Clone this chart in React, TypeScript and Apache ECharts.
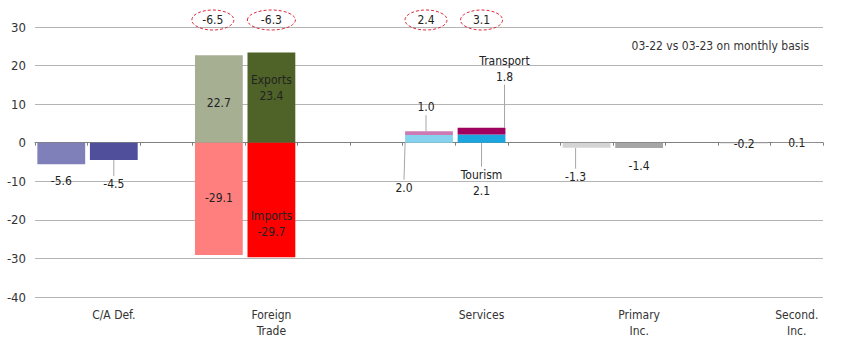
import React, { useEffect, useRef } from "react";
import * as echarts from "echarts";

// ---- data ----
const categories = ["", "C/A Def.", "", "", "Foreign\nTrade", "", "", "", "Services", "", "", "Primary\nInc.", "", "", "Second.\nInc."];
const caDef = [-5.6, -4.5];
const exportsV = [22.7, 23.4];
const importsV = [-29.1, -29.7];
const tourism = [2.0, 2.1];
const transport = [1.0, 1.8];
const primaryInc = [-1.3, -1.4];
const secondInc = [-0.2, 0.1];
const netBalances = ["-6.5", "-6.3", "2.4", "3.1"];
const yTicks = { min: -40, max: 30, interval: 10 };
const subtitle = "03-22 vs 03-23 on monthly basis";

// ---- slots & styles ----
const slots = {
  caDef: [0, 1],
  trade: [3, 4],
  services: [7, 8],
  primary: [10, 11],
  second: [13, 14],
};
const netSlots = [3, 4, 7, 8];
const FONT = "'Liberation Sans Narrow', 'DejaVu Sans Condensed', 'Arial Narrow', 'Liberation Sans', sans-serif";
const FS = 12;
const TXT = "#222";

type Lbl = { position?: string; distance?: number; formatter?: string; move?: number[]; line?: boolean };

function item(value: number, color: string, lbl: Lbl) {
  return {
    value,
    itemStyle: { color },
    label: {
      show: true,
      position: lbl.position || "inside",
      distance: lbl.distance ?? 5,
      formatter: lbl.formatter || "{c}",
    },
    labelLine: { show: !!lbl.line },
    move: lbl.move,
  };
}

function fmt(v: number) {
  return v.toFixed(1);
}

export default function App() {
  const ref = useRef<HTMLDivElement>(null);
  useEffect(() => {
    if (!ref.current) return;
    document.body.style.margin = "0";
    const chart = echarts.init(ref.current, undefined, { renderer: "svg" });
    const n = categories.length;
    const baseData: any[] = new Array(n).fill("-");
    const importData: any[] = new Array(n).fill("-");
    const topData: any[] = new Array(n).fill("-");

    baseData[slots.caDef[0]] = item(caDef[0], "#7f7fb9", { position: "bottom", distance: 9, formatter: fmt(caDef[0]) });
    baseData[slots.caDef[1]] = item(caDef[1], "#4f4f9b", { position: "bottom", distance: 3, formatter: fmt(caDef[1]), move: [0, 13], line: true });
    baseData[slots.trade[0]] = item(exportsV[0], "#a7af93", { formatter: fmt(exportsV[0]), move: [0, 4] });
    baseData[slots.trade[1]] = item(exportsV[1], "#4f6228", { formatter: "Exports\n" + fmt(exportsV[1]), move: [0, -10] });
    baseData[slots.services[0]] = item(tourism[0], "#86d3ef", { position: "bottom", distance: 2, formatter: fmt(tourism[0]), move: [-25, 35], line: true });
    baseData[slots.services[1]] = item(tourism[1], "#1ba6df", { position: "bottom", distance: 2, formatter: "Tourism\n" + fmt(tourism[1]), move: [0, 22], line: true });
    baseData[slots.primary[0]] = item(primaryInc[0], "#d4d4d4", { position: "bottom", distance: 2, formatter: fmt(primaryInc[0]), move: [-11, 19], line: true });
    baseData[slots.primary[1]] = item(primaryInc[1], "#a6a6a6", { position: "bottom", distance: 10, formatter: fmt(primaryInc[1]) });
    baseData[slots.second[0]] = item(secondInc[0], "#d4d4d4", { formatter: fmt(secondInc[0]), move: [0, 1] });
    baseData[slots.second[1]] = item(secondInc[1], "#a0a0a0", { formatter: fmt(secondInc[1]) });

    importData[slots.trade[0]] = item(importsV[0], "#ff7f7f", { formatter: fmt(importsV[0]), move: [0, -1] });
    importData[slots.trade[1]] = item(importsV[1], "#ff0000", { formatter: "Imports\n" + fmt(importsV[1]), move: [0, 24] });

    topData[slots.services[0]] = item(transport[0], "#cc7ab3", { position: "top", distance: 2, formatter: fmt(transport[0]), move: [-3, -14], line: true });
    topData[slots.services[1]] = item(transport[1], "#a0005e", { position: "top", distance: 2, formatter: "Transport\n" + fmt(transport[1]), move: [23, -41], line: true });

    const layoutFor = (data: any[]) => (p: any) => {
      const d = data[p.dataIndex];
      if (d && d.move) return { dx: d.move[0], dy: d.move[1] };
      return {};
    };

    const common = {
      type: "bar",
      stack: "total",
      barWidth: "91%",
      label: { color: TXT, fontFamily: FONT, fontSize: FS, lineHeight: 16 },
      labelLine: { lineStyle: { color: "#a6a6a6", width: 1 } },
    };

    const option: any = {
      animation: false,
      textStyle: { fontFamily: FONT },
      title: {
        text: subtitle,
        right: 31,
        top: 35,
        textStyle: { fontFamily: FONT, fontSize: FS, fontWeight: "normal", color: "#333" },
      },
      grid: { left: 35, right: 22, top: 27, bottom: 58 },
      xAxis: [
        {
          type: "category",
          data: categories,
          boundaryGap: true,
          axisLine: { onZero: true, lineStyle: { color: "#808080" } },
          axisTick: { show: true, length: 3, interval: 0, lineStyle: { color: "#808080" } },
          axisLabel: { show: false },
          splitLine: { show: false },
        },
        {
          type: "category",
          data: categories,
          position: "bottom",
          axisLine: { show: false, onZero: false },
          axisTick: { show: false },
          axisLabel: { interval: 0, color: "#333", fontFamily: FONT, fontSize: FS, lineHeight: 16, margin: 10 },
        },
      ],
      yAxis: {
        type: "value",
        min: yTicks.min,
        max: yTicks.max,
        interval: yTicks.interval,
        axisLine: { show: false },
        axisTick: { show: false },
        axisLabel: { color: "#333", fontFamily: FONT, fontSize: 13, margin: 9 },
        splitLine: { lineStyle: { color: "#b4b4b4" } },
      },
      series: [
        { ...common, name: "base", data: baseData, labelLayout: layoutFor(baseData) },
        { ...common, name: "imports", data: importData, labelLayout: layoutFor(importData) },
        { ...common, name: "top", data: topData, labelLayout: layoutFor(topData) },
      ],
    };
    chart.setOption(option);

    const graphics: any[] = netSlots.map((s, i) => {
      const x = chart.convertToPixel({ xAxisIndex: 0 }, s) as number;
      return {
        type: "group",
        x: x + (i === 0 ? -6 : i === 2 ? -3 : 0),
        y: 20,
        children: [
          {
            type: "ellipse",
            shape: { cx: 0, cy: 0, rx: i === 1 ? 24 : 21, ry: 10 },
            style: { fill: "none", stroke: "#e0283c", lineWidth: 1, lineDash: [3, 2] },
          },
          {
            type: "text",
            style: {
              text: netBalances[i],
              x: 0,
              y: 0,
              align: "center",
              verticalAlign: "middle",
              font: `${FS}px ${FONT}`,
              fill: TXT,
            },
          },
        ],
      };
    });
    chart.setOption({ graphic: graphics });

    return () => chart.dispose();
  }, []);
  return <div ref={ref} style={{ width: 845, height: 355 }} />;
}
